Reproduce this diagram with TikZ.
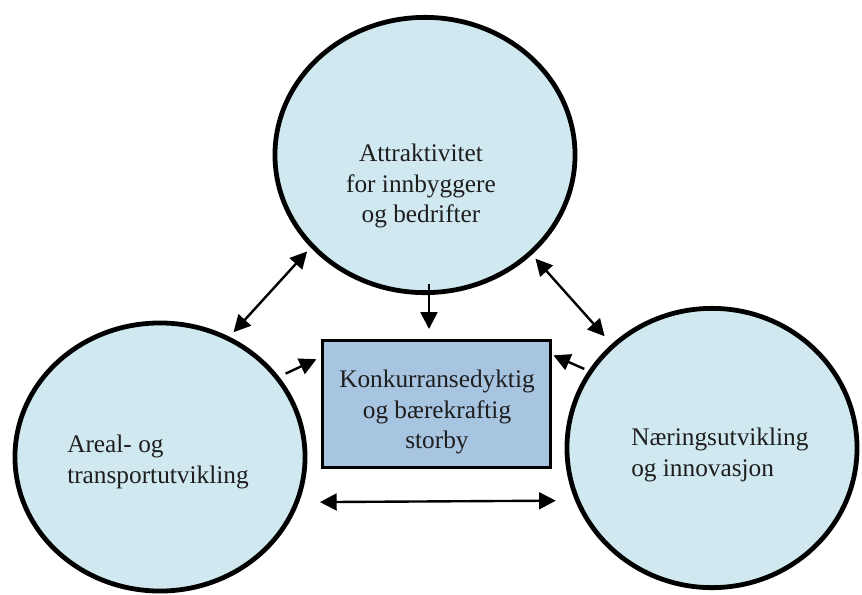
\documentclass[tikz,border=0pt]{standalone}
\usepackage{fontspec}
\setmainfont{Liberation Serif}
\usetikzlibrary{shapes.geometric}
\usetikzlibrary{arrows.meta}
\definecolor{bubblefill}{RGB}{208,232,240}
\definecolor{goalfill}{RGB}{167,196,225}
\definecolor{inktext}{RGB}{30,30,30}

\begin{document}
\begin{tikzpicture}[%
		x=0.025cm, y=-0.025cm,
		>={Triangle[length=0.42cm, width=0.42cm]},
		bubble/.style={ellipse, draw=black, line width=3.4pt, fill=bubblefill, inner sep=0pt},
		goalbox/.style={rectangle, draw=black, line width=2.5pt, fill=goalfill, inner sep=0pt},
		bubbletext/.style={inner sep=0pt, text=inktext, font=\fontsize{18}{22}\selectfont},
		link/.style={line width=1.7pt, black}
		]
		% (862px,594px) canvas
		\useasboundingbox (0,0) rectangle (862,594);
		%%%%%%%%%%%%%%%
		%    NODES    %
		%%%%%%%%%%%%%%%
		% Attraktivitet
		\node[bubble, minimum width=7.5cm, minimum height=6.88cm] (attr) at (425,155) {};
		\node[bubbletext, align=center] (attrtxt) at (421,186) {Attraktivitet\\for innbyggere\\og bedrifter};
		
		% Areal og transport
		\node[bubble, minimum width=7.25cm, minimum height=6.7cm] (area) at (160,457) {};
		\node[bubbletext, align=left, anchor=west] (areatxt) at (67,462) {Areal- og\\transportutvikling};
		
		% Naeringsutvikling
		\node[bubble, minimum width=7.25cm, minimum height=6.98cm] (biz) at (712,448) {};
		\node[bubbletext, align=left, anchor=west] (biztxt) at (631,455) {Næringsutvikling\\og innovasjon};
		
		% Storby
		\node[goalbox, minimum width=5.7cm, minimum height=3.18cm] (goal) at (436.5,404) {};
		\node[bubbletext, align=center] (goaltxt) at (437,412) {Konkurransedyktig\\og bærekraftig\\storby};
		
		%%%%%%%%%%%%%%%
		% CONNECTIONS %
		%%%%%%%%%%%%%%%
		
		\path[link, ->]
		([xshift=0.1cm]attr.south) edge[shorten <=-0.28cm, shorten >=0.24cm] ([xshift=0.1cm]attr.south |- goal.north);
		
		\path[link, <->]
		(area.60) edge[shorten <=0.15cm, shorten >=0.13cm] (attr.219);
		
		\path[link, <->]
		(attr.-43) edge[shorten <=0.13cm, shorten >=0.26cm] (biz.134);
		
		\path[link, ->]
		(area.34) edge[shorten <=0.18cm, shorten >=0.12cm] (goal.158);
		
		\path[link, ->]
		(biz.148) edge[shorten <=0.11cm, shorten >=0.03cm] (goal.23);
		
		% along the bottom
		\path[link, <->]
		(area.-18) edge[shorten <=0.52cm, shorten >=0.48cm] (biz.-159);
		
	\end{tikzpicture}
\end{document}
